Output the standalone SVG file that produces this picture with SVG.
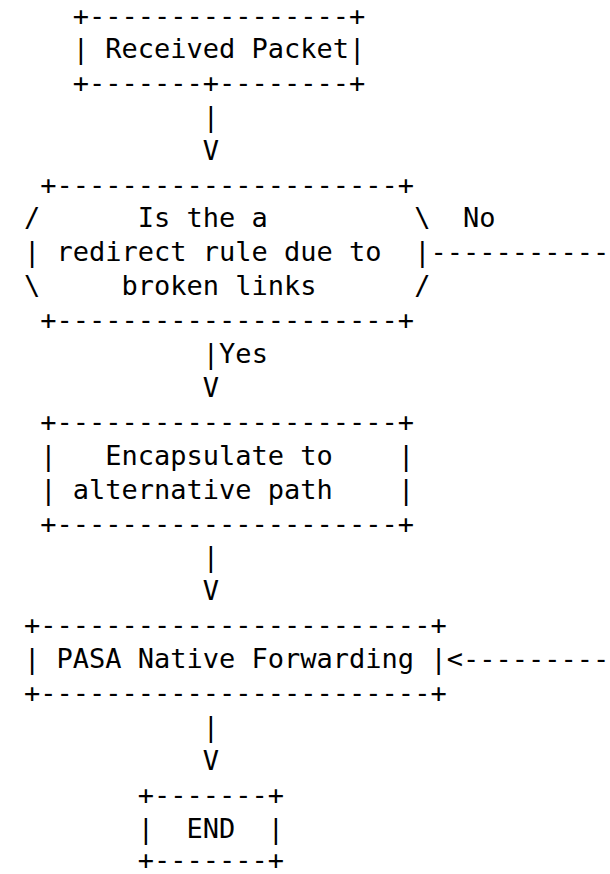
<svg xmlns="http://www.w3.org/2000/svg" width="610" height="874" viewBox="0 0 610 874" xml:space="preserve">
  <style>
    text { font-family: "DejaVu Sans Mono", "Liberation Mono", monospace; font-size: 27px; fill: #000; white-space: pre; }
  </style>
  <rect width="610" height="874" fill="#fff"/>

  <!-- monospace grid: column c starts at x = 24 + 16.26*c, rows every 33.9px -->

  <g id="node-received">
    <text x="72.78" y="25">+----------------+</text>
    <text x="72.78" y="58">| Received Packet|</text>
    <text x="72.78" y="92">+-------+--------+</text>
  </g>

  <g id="node-decision">
    <text x="40.26" y="193.5">+---------------------+</text>
    <text x="24" y="227.4">/</text>
    <text x="137.82" y="227.4">Is the a</text>
    <text x="414.24" y="227.4">\</text>
    <text x="24" y="261.3">|</text>
    <text x="56.52" y="261.3">redirect rule due to</text>
    <text x="414.24" y="261.3">|</text>
    <text x="24" y="295.2">\</text>
    <text x="121.56" y="295.2">broken links</text>
    <text x="414.24" y="295.2">/</text>
    <text x="40.26" y="329.1">+---------------------+</text>
  </g>

  <g id="node-encapsulate">
    <text x="40.26" y="430.8">+---------------------+</text>
    <text x="40.26" y="464.7">|</text>
    <text x="105.3" y="464.7">Encapsulate to</text>
    <text x="397.98" y="464.7">|</text>
    <text x="40.26" y="498.6">|</text>
    <text x="72.78" y="498.6">alternative path</text>
    <text x="397.98" y="498.6">|</text>
    <text x="40.26" y="532.5">+---------------------+</text>
  </g>

  <g id="node-pasa">
    <text x="24" y="634.2">+------------------------+</text>
    <text x="24" y="668.1">| PASA Native Forwarding |</text>
    <text x="24" y="702">+------------------------+</text>
  </g>

  <g id="node-end">
    <text x="137.82" y="803.7">+-------+</text>
    <text x="137.82" y="837.6">|  END  |</text>
    <text x="137.82" y="869">+-------+</text>
  </g>

  <g id="connectors">
    <!-- received -> decision -->
    <text x="202.86" y="125.7">|</text>
    <text x="202.86" y="159.6">V</text>
    <!-- decision -> encapsulate (Yes) -->
    <text x="202.86" y="363">|Yes</text>
    <text x="202.86" y="396.9">V</text>
    <!-- encapsulate -> pasa -->
    <text x="202.86" y="566.4">|</text>
    <text x="202.86" y="600.3">V</text>
    <!-- pasa -> end -->
    <text x="202.86" y="735.9">|</text>
    <text x="202.86" y="769.8">V</text>
    <!-- decision -> pasa (No), routed along the right edge -->
    <text x="463.02" y="227.4">No</text>
    <text x="430.5" y="261.3">-----------</text>
    <text x="446.76" y="668.1">&lt;---------</text>
  </g>
</svg>
